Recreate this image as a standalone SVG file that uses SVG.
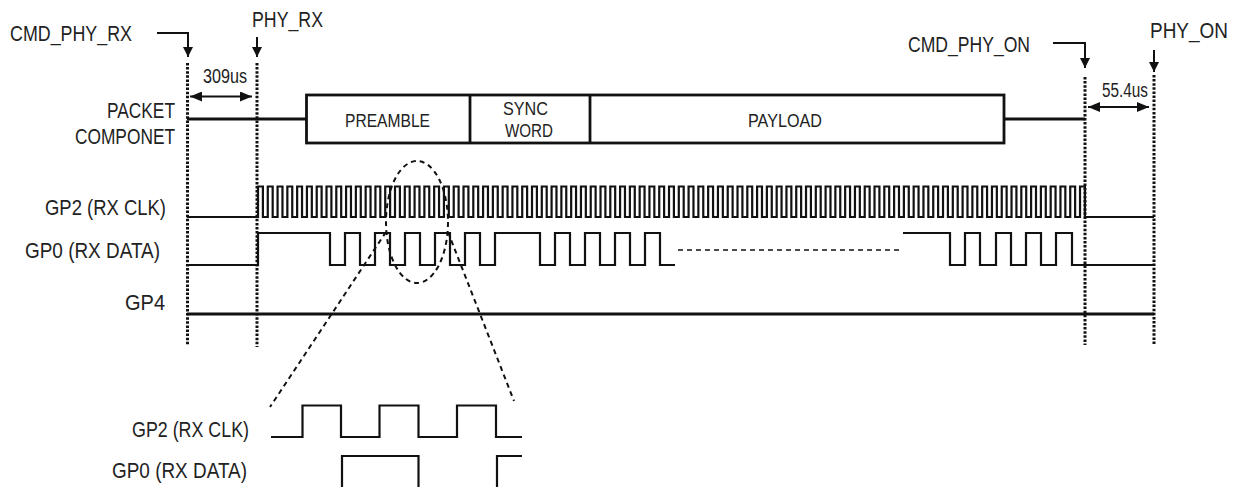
<svg xmlns="http://www.w3.org/2000/svg" width="1243" height="487" viewBox="0 0 1243 487">
<style>
text{font-family:"Liberation Sans",Arial,sans-serif;fill:#222;}
.lbl{font-size:22px;}
.box{font-size:19px;}
.t{font-size:20px;}
.w{fill:none;stroke:#111;stroke-width:2.2;stroke-linejoin:miter;}
.thick{fill:none;stroke:#111;stroke-width:2.8;}
.dot{stroke:#111;stroke-width:3;stroke-dasharray:2.5 1.6;}
.dash{fill:none;stroke:#111;stroke-width:2;stroke-dasharray:5 4;}
.arr{fill:none;stroke:#111;stroke-width:2;marker-end:url(#ah);}
.dbl{fill:none;stroke:#111;stroke-width:2;marker-end:url(#ah2);marker-start:url(#ah2);}
</style>
<defs>
<marker id="ah" viewBox="0 0 10 10" refX="10" refY="5" markerUnits="userSpaceOnUse" markerWidth="10" markerHeight="10" orient="auto"><path d="M0,0 L10,5 L0,10 z" fill="#111"/></marker>
<marker id="ah2" viewBox="0 0 12 10" refX="12" refY="5" markerUnits="userSpaceOnUse" markerWidth="12" markerHeight="10" orient="auto-start-reverse"><path d="M0,0 L12,5 L0,10 z" fill="#111"/></marker>
</defs>

<g id="markers">
<line class="dot" x1="187.5" y1="63" x2="187.5" y2="345"/>
<line class="dot" x1="257" y1="63" x2="257" y2="347"/>
<line class="dot" x1="1085" y1="77" x2="1085" y2="345"/>
<line class="dot" x1="1154" y1="75" x2="1154" y2="345"/>
</g>

<g id="labels-top">
<text class="lbl" x="10" y="41" textLength="122" lengthAdjust="spacingAndGlyphs">CMD_PHY_RX</text>
<text class="lbl" x="252" y="27" textLength="71" lengthAdjust="spacingAndGlyphs">PHY_RX</text>
<text class="lbl" x="908" y="52" textLength="122" lengthAdjust="spacingAndGlyphs">CMD_PHY_ON</text>
<text class="lbl" x="1150" y="38" textLength="78" lengthAdjust="spacingAndGlyphs">PHY_ON</text>
<text class="t" x="203" y="83" textLength="44" lengthAdjust="spacingAndGlyphs">309us</text>
<text class="t" x="1102" y="97" textLength="46" lengthAdjust="spacingAndGlyphs">55.4us</text>
</g>

<g id="signal-labels">
<text class="lbl" x="107" y="118" textLength="68" lengthAdjust="spacingAndGlyphs">PACKET</text>
<text class="lbl" x="75" y="144" textLength="100" lengthAdjust="spacingAndGlyphs">COMPONET</text>
<text class="lbl" x="45" y="215" textLength="121" lengthAdjust="spacingAndGlyphs">GP2 (RX CLK)</text>
<text class="lbl" x="25" y="258" textLength="135" lengthAdjust="spacingAndGlyphs">GP0 (RX DATA)</text>
<text class="lbl" x="125" y="310" textLength="40" lengthAdjust="spacingAndGlyphs">GP4</text>
</g>

<g id="packet">
<line class="thick" x1="187" y1="119" x2="306" y2="119"/>
<rect class="thick" x="306.5" y="95" width="697.5" height="48"/>
<line class="thick" x1="470" y1="95" x2="470" y2="143"/>
<line class="thick" x1="590" y1="95" x2="590" y2="143"/>
<line class="thick" x1="1004" y1="119" x2="1085" y2="119"/>
<text class="box" x="345" y="127" textLength="85" lengthAdjust="spacingAndGlyphs">PREAMBLE</text>
<text class="box" x="503" y="115" textLength="45" lengthAdjust="spacingAndGlyphs">SYNC</text>
<text class="box" x="505" y="137" textLength="48" lengthAdjust="spacingAndGlyphs">WORD</text>
<text class="box" x="748" y="127" textLength="74" lengthAdjust="spacingAndGlyphs">PAYLOAD</text>
</g>

<g id="gp2-clk">
<path class="w" d="M187,217 H258 V186.5
h4.893v30.5h4.893v-30.5h4.893v30.5h4.893v-30.5h4.893v30.5h4.893v-30.5h4.893v30.5h4.893v-30.5h4.893v30.5h4.893v-30.5h4.893v30.5h4.893v-30.5h4.893v30.5h4.893v-30.5h4.893v30.5h4.893v-30.5
h4.893v30.5h4.893v-30.5h4.893v30.5h4.893v-30.5h4.893v30.5h4.893v-30.5h4.893v30.5h4.893v-30.5h4.893v30.5h4.893v-30.5h4.893v30.5h4.893v-30.5h4.893v30.5h4.893v-30.5h4.893v30.5h4.893v-30.5
h4.893v30.5h4.893v-30.5h4.893v30.5h4.893v-30.5h4.893v30.5h4.893v-30.5h4.893v30.5h4.893v-30.5h4.893v30.5h4.893v-30.5h4.893v30.5h4.893v-30.5h4.893v30.5h4.893v-30.5h4.893v30.5h4.893v-30.5
h4.893v30.5h4.893v-30.5h4.893v30.5h4.893v-30.5h4.893v30.5h4.893v-30.5h4.893v30.5h4.893v-30.5h4.893v30.5h4.893v-30.5h4.893v30.5h4.893v-30.5h4.893v30.5h4.893v-30.5h4.893v30.5h4.893v-30.5
h4.893v30.5h4.893v-30.5h4.893v30.5h4.893v-30.5h4.893v30.5h4.893v-30.5h4.893v30.5h4.893v-30.5h4.893v30.5h4.893v-30.5h4.893v30.5h4.893v-30.5h4.893v30.5h4.893v-30.5h4.893v30.5h4.893v-30.5
h4.893v30.5h4.893v-30.5h4.893v30.5h4.893v-30.5h4.893v30.5h4.893v-30.5h4.893v30.5h4.893v-30.5h4.893v30.5h4.893v-30.5h4.893v30.5h4.893v-30.5h4.893v30.5h4.893v-30.5h4.893v30.5h4.893v-30.5
h4.893v30.5h4.893v-30.5h4.893v30.5h4.893v-30.5h4.893v30.5h4.893v-30.5h4.893v30.5h4.893v-30.5h4.893v30.5h4.893v-30.5h4.893v30.5h4.893v-30.5h4.893v30.5h4.893v-30.5h4.893v30.5h4.893v-30.5
h4.893v30.5h4.893v-30.5h4.893v30.5h4.893v-30.5h4.893v30.5h4.893v-30.5h4.893v30.5h4.893v-30.5h4.893v30.5h4.893v-30.5h4.893v30.5h4.893v-30.5h4.893v30.5h4.893v-30.5h4.893v30.5h4.893v-30.5
h4.893v30.5h4.893v-30.5h4.893v30.5h4.893v-30.5h4.893v30.5h4.893v-30.5h4.893v30.5h4.893v-30.5h4.893v30.5h4.893v-30.5h4.893v30.5h4.893v-30.5h4.893v30.5h4.893v-30.5h4.893v30.5h4.893v-30.5
h4.893v30.5h4.893v-30.5h4.893v30.5h4.893v-30.5h4.893v30.5h4.893v-30.5h4.893v30.5h4.893v-30.5h4.893v30.5h4.893v-30.5h4.893v30.5h4.893v-30.5h4.893v30.5h4.893v-30.5h4.893v30.5h4.893v-30.5
h4.893v30.5h4.893v-30.5h4.893v30.5h4.893v-30.5h4.893v30.5h4.893v-30.5h4.893v30.5h4.893v-30.5
h4.893v30.5 H1154"/>
</g>

<g id="gp0-data">
<path class="w" d="M187,265 H258 V233 H330 V265 H345 V233 H360 V265 H375 V233 H390 V265 H405 V233 H420 V265 H435 V233 H450 V265 H465 V233 H480 V265 H495 V233 H540 V265 H555 V233 H570 V265 H585 V233 H600 V265 H615 V233 H630 V265 H645 V233 H660 V265 H675"/>
<line x1="678" y1="250" x2="903" y2="250" stroke="#111" stroke-width="1.6" stroke-dasharray="5 4"/>
<path class="w" d="M903,233 H950 V265 H965 V233 H980 V265 H996 V233 H1011 V265 H1026 V233 H1041 V265 H1056 V233 H1072 V265 H1154"/>
</g>

<g id="gp4">
<line class="thick" x1="187" y1="314" x2="1154" y2="314"/>
</g>

<g id="connectors">
<polyline class="arr" points="157,33 188,33 188,57"/>
<line class="arr" x1="257" y1="37" x2="257" y2="57"/>
<polyline class="arr" points="1053,43 1085,43 1085,68"/>
<line class="arr" x1="1154" y1="50" x2="1154" y2="72"/>
<line class="dbl" x1="190" y1="96.5" x2="252" y2="96.5"/>
<line class="dbl" x1="1088" y1="107" x2="1149" y2="107"/>
<ellipse class="dash" cx="417" cy="222" rx="31" ry="61"/>
<line class="dash" x1="386" y1="232" x2="270" y2="407"/>
<line class="dash" x1="448" y1="232" x2="514" y2="401"/>
</g>

<g id="zoom-detail">
<text class="lbl" x="132" y="437" textLength="117" lengthAdjust="spacingAndGlyphs">GP2 (RX CLK)</text>
<text class="lbl" x="112" y="478" textLength="135" lengthAdjust="spacingAndGlyphs">GP0 (RX DATA)</text>
<path class="w" d="M271,437 H302.5 V405.5 H341 V437 H379.5 V405.5 H418.5 V437 H457 V405.5 H496 V437 H522"/>
<path class="w" d="M342,490 V456 H418.5 V490 M497,490 V456 H522"/>
</g>
</svg>
